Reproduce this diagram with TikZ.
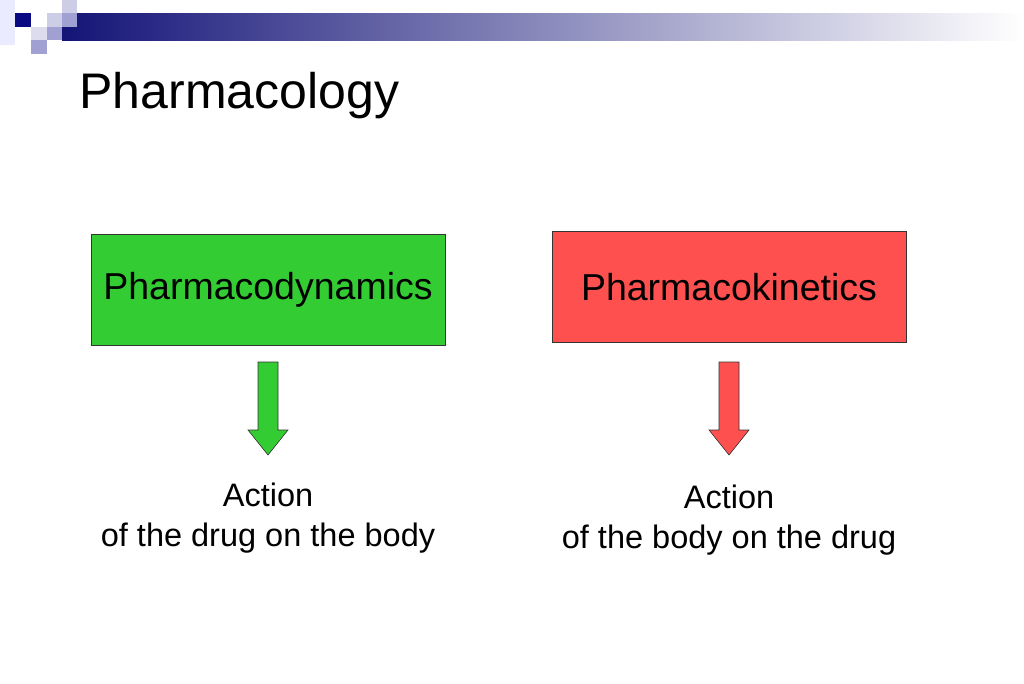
\documentclass[tikz,border=0pt]{standalone}
\usepackage{fontspec}
\setmainfont{Liberation Sans}
\definecolor{navy}{RGB}{20,20,120}
\definecolor{dk}{RGB}{10,10,130}
\definecolor{lt}{RGB}{205,205,230}
\definecolor{md}{RGB}{160,160,210}
\definecolor{pl}{RGB}{220,220,238}
\definecolor{gr}{RGB}{51,204,51}
\definecolor{rd}{RGB}{255,80,80}
\begin{document}
\begin{tikzpicture}[x=1pt,y=-1pt,
  box/.style={draw=black!80,line width=0.8pt,minimum width=354pt,minimum height=111pt,font=\fontsize{37.5}{44}\selectfont},
  lbl/.style={align=center,font=\fontsize{32.5}{40}\selectfont},
  arr/.style={draw=black!80,line width=0.6pt}]
\useasboundingbox (0,0) rectangle (1024,683);
\shade[left color=navy,middle color=navy!75!white,right color=white] (62,13) rectangle (1024,40);
\fill[blue!8!white] (0,0) rectangle (15,45);
\fill[dk] (15,13) rectangle (31,27);
\fill[lt] (47,13) rectangle (62,27);
\fill[lt] (62,0) rectangle (77,13);
\fill[md] (62,13) rectangle (77,27);
\fill[pl] (31,27) rectangle (47,40);
\fill[md] (47,27) rectangle (62,40);
\fill[md] (31,40) rectangle (47,54);
\node[anchor=base west,font=\fontsize{50}{56}\selectfont] (title) at (76,108) {Pharmacology};
\node[box,fill=gr] (pd) at (268,289.5) {Pharmacodynamics};
\node[box,fill=rd] (pk) at (729,287) {Pharmacokinetics};
\filldraw[arr,fill=gr]
  (258,362) -- (278,362) -- (278,430) -- (288,430) -- (268,455) -- (248,430) -- (258,430) -- cycle;
\filldraw[arr,fill=rd]
  (719,362) -- (739,362) -- (739,430) -- (749,430) -- (729,455) -- (709,430) -- (719,430) -- cycle;
\node[lbl] (a1) at (268,518) {Action\\of the drug on the body};
\node[lbl] (a2) at (729,520) {Action\\of the body on the drug};
\end{tikzpicture}
\end{document}
